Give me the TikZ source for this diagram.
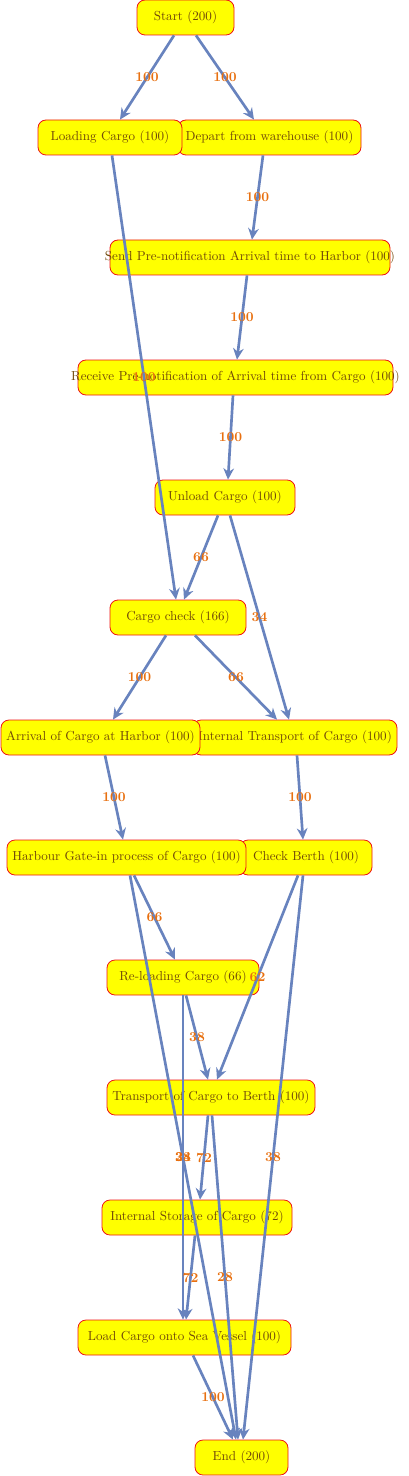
\documentclass[tikz,border=0pt]{standalone}
\usepackage{tikz}
\usetikzlibrary{positioning,calc,arrows.meta}
\usepackage{xcolor}

\definecolor{boxfill}{RGB}{255,255,0}
\definecolor{boxline}{RGB}{238,20,20}
\definecolor{boxtext}{RGB}{112,72,10}
\definecolor{flowline}{RGB}{104,131,190}
\definecolor{flowtext}{RGB}{232,112,16}

\tikzset{
  act/.style={draw=boxline, fill=boxfill, line width=0.6pt, rounded corners=6pt,
    minimum height=26.25pt, inner sep=0pt, text=boxtext,
    font=\fontsize{9.8}{11}\selectfont},
  wd/.style={minimum width=#1*0.75pt},
  flow/.style={draw=flowline, line width=2pt, -{Stealth[length=8.5pt,width=8pt]}},
  cnt/.style={text=flowtext, font=\fontsize{10.2}{11}\selectfont\bfseries}
}

\begin{document}
\begin{tikzpicture}[x=0.75pt,y=-0.75pt]
  \useasboundingbox (0,0) rectangle (409,1476);

  % Activities
  \node[act,wd=97] (start) at (185.5,17.5) {\makebox[0pt]{Start (200)}};
  \node[act,wd=183] (depart) at (269.5,137.5) {\makebox[0pt]{Depart from warehouse (100)}};
  \node[act,wd=144] (load) at (110,137.5) {\makebox[0pt]{Loading Cargo (100)}};
  \node[act,wd=280] (send) at (250,257.5) {\makebox[0pt]{Send Pre-notification Arrival time to Harbor (100)}};
  \node[act,wd=315] (receive) at (235.5,377.5) {\makebox[0pt]{Receive Pre-notification of Arrival time from Cargo (100)}};
  \node[act,wd=140] (unload) at (225,497.5) {\makebox[0pt]{Unload Cargo (100)}};
  \node[act,wd=136] (check) at (178,617.5) {\makebox[0pt]{Cargo check (166)}};
  \node[act,wd=204] (internal) at (295,737.5) {\makebox[0pt]{Internal Transport of Cargo (100)}};
  \node[act,wd=199] (arrival) at (100.5,737.5) {\makebox[0pt]{Arrival of Cargo at Harbor (100)}};
  \node[act,wd=132] (berth) at (306,857.5) {\makebox[0pt]{Check Berth (100)}};
  \node[act,wd=239] (gate) at (126.5,857.5) {\makebox[0pt]{Harbour Gate-in process of Cargo (100)}};
  \node[act,wd=152] (reload) at (183,977.5) {\makebox[0pt]{Re-loading Cargo (66)}};
  \node[act,wd=208] (tberth) at (211,1097.5) {\makebox[0pt]{Transport of Cargo to Berth (100)}};
  \node[act,wd=190] (storage) at (197,1217.5) {\makebox[0pt]{Internal Storage of Cargo (72)}};
  \node[act,wd=213] (vessel) at (184.5,1337.5) {\makebox[0pt]{Load Cargo onto Sea Vessel (100)}};
  \node[act,wd=93] (finish) at (241.5,1457.5) {\makebox[0pt]{End (200)}};

  % Flows: from/x/to/x/count
  \foreach \a/\xa/\b/\xb/\w in {
      start/174/load/120/100, start/196/depart/254/100,
      depart/263/send/252/100, load/112/check/176/100,
      send/247/receive/237/100, receive/233/unload/228/100,
      unload/218/check/184/66, unload/230/internal/289/34,
      check/166/arrival/113/100, check/195/internal/277/66,
      arrival/105/gate/123/100, internal/297/berth/303/100,
      gate/134/reload/175/66, gate/130/finish/236/34,
      berth/298/tberth/217/62, berth/303/finish/243/38,
      reload/186/tberth/208/38, reload/183/vessel/183/28,
      tberth/208/storage/200/72, tberth/212/finish/238/28,
      storage/195/vessel/186/72, vessel/193/finish/233/100}
    \draw[flow] (\a.south -| \xa,0) -- node[cnt] {\w} (\b.north -| \xb,0);
\end{tikzpicture}
\end{document}
